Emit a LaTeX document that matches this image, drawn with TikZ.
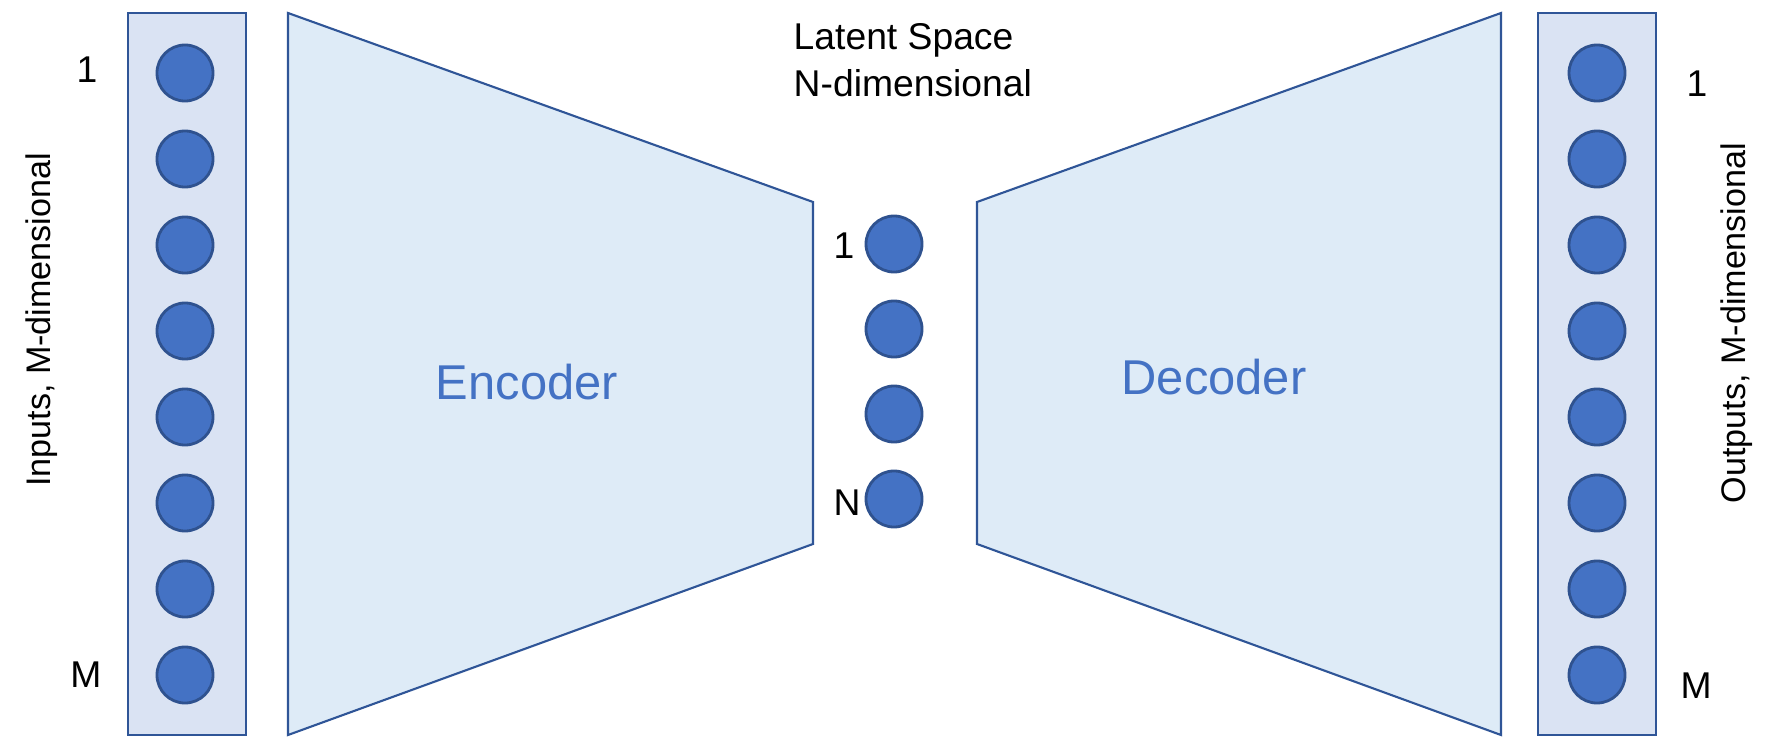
\documentclass[tikz,border=0pt]{standalone}
\usepackage{fontspec}
\setmainfont{Liberation Sans}

\definecolor{unitfill}{HTML}{4472C4}
\definecolor{unitline}{HTML}{2F528F}
\definecolor{layerfill}{HTML}{DAE3F3}
\definecolor{netfill}{HTML}{DEEBF7}
\definecolor{netline}{HTML}{2F5597}

\tikzset{
    neuron/.style={circle, fill=unitfill, draw=unitline, line width=0.8pt, minimum size=0.56cm, inner sep=0pt},
    layer/.style={fill=layerfill, draw=netline, line width=0.6pt},
    net/.style={fill=netfill, draw=netline, line width=0.6pt},
    lbl/.style={font=\fontsize{10.6}{13.4}\selectfont, inner sep=0pt},
    side/.style={font=\fontsize{9.7}{12}\selectfont, inner sep=0pt, rotate=90, anchor=base},
    block/.style={font=\fontsize{13.9}{16}\selectfont, text=unitfill, inner sep=0pt, anchor=base}
}

\begin{document}
\begin{tikzpicture}[x=0.01cm, y=-0.01cm]
    \useasboundingbox (0,0) rectangle (1774,737);

    \coordinate (A) at (288, 13);
    \coordinate (B) at (813, 202);
    \coordinate (C) at (813, 544);
    \coordinate (D) at (288, 735);
    \coordinate (E) at (977, 202);
    \coordinate (F) at (1501, 13);
    \coordinate (G) at (1501, 735);
    \coordinate (H) at (977, 544);

    \coordinate (P) at (128, 13);
    \coordinate (Q) at (246, 735);
    \coordinate (R) at (1538, 13);
    \coordinate (S) at (1656, 735);

    % encoder and decoder
    \draw[net] (A) -- (B) -- (C) -- (D) -- cycle;
    \draw[net] (E) -- (F) -- (G) -- (H) -- cycle;

    % input and output layers
    \draw[layer] (P) rectangle (Q);
    \draw[layer] (R) rectangle (S);

    \foreach \i in {1,...,8} {
        \node[neuron] (in\i) at (185, {73 + 86*(\i-1)}) {};
        \node[neuron] (out\i) at (1597, {73 + 86*(\i-1)}) {};
    }
    \foreach \i in {1,...,4} {
        \node[neuron] (z\i) at (894, {244 + 85*(\i-1)}) {};
    }

    \node[lbl, anchor=base] (inA) at (87, 83) {1};
    \node[lbl, anchor=base] (inB) at (86, 687) {M};
    \node[lbl, anchor=base] (zA) at (844, 259) {1};
    \node[lbl, anchor=base] (zB) at (847, 515) {N};
    \node[lbl, anchor=base] (outA) at (1697, 97) {1};
    \node[lbl, anchor=base] (outB) at (1696, 698) {M};

    \node[lbl, anchor=north west, align=left] (latent) at (793, 23) {Latent Space\\N-dimensional};

    \node[side] (inputs) at (51, 320) {Inputs, M-dimensional};
    \node[side] (outputs) at (1745, 323) {Outputs, M-dimensional};

    \node[block] (enc) at (527, 399) {Encoder};
    \node[block] (dec) at (1214, 394) {Decoder};

\end{tikzpicture}
\end{document}
